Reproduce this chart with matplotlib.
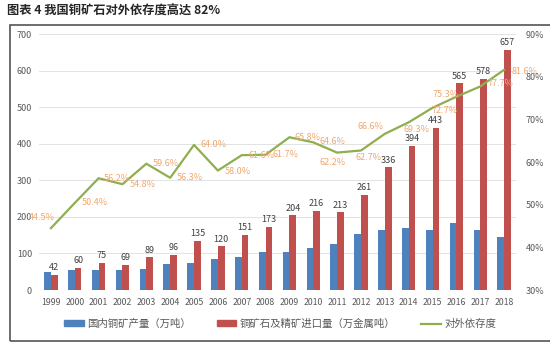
import matplotlib
matplotlib.use('Agg')
import matplotlib.pyplot as plt
from matplotlib.patches import Patch, Rectangle
from matplotlib.lines import Line2D
from matplotlib.ticker import FuncFormatter

plt.rcParams['font.family'] = ['Noto Sans CJK SC', 'DejaVu Sans']

# 数据
years = [str(y) for y in range(1999, 2019)]
domestic = [50, 56, 56, 54, 57, 70, 74, 84, 91, 105, 104, 115, 126, 152, 165, 170, 164, 182, 163, 145]
imports = [42, 60, 75, 69, 89, 96, 135, 120, 151, 173, 204, 216, 213, 261, 336, 394, 443, 565, 578, 657]
dependency = [44.5, 50.4, 56.2, 54.8, 59.6, 56.3, 64.0, 58.0, 61.6, 61.7,
              65.8, 64.6, 62.2, 62.7, 66.6, 69.3, 72.7, 75.3, 77.7, 81.6]

# 百分比标签偏移（像素：右, 上）
pct_offsets = [(-9, 11), (20, 0), (18, 0), (20, 0), (19, 0), (20, 0), (19, 0), (20, -1),
               (20, 0), (20, 0), (18, 0), (19, 1), (-5, -10), (8, -7), (-14, 7), (8, -7),
               (12, -3), (-11, 2), (20, 3), (20, -2)]

blue = '#4F81BD'
red = '#C0504D'
green = '#8FAE4E'
orange = '#EFA870'
grey = '#595959'

fig = plt.figure(figsize=(5.5, 3.45), dpi=100)
ax = fig.add_axes([39 / 550, 1 - 290 / 345, 477 / 550, 256 / 345])

x = list(range(len(years)))
w = 0.28
ax.bar([i - w / 2 for i in x], domestic, width=w, color=blue)
ax.bar([i + w / 2 for i in x], imports, width=w, color=red)
for i, v in zip(x, imports):
    ax.text(i + w / 2, v + 7, str(v), ha='center', va='bottom', fontsize=6.5, color='#404040')

ax.set_xlim(-0.5, len(years) - 0.5)
ax.set_ylim(0, 700)
ax.set_yticks(range(0, 701, 100))
ax.set_xticks(x)
ax.set_xticklabels(years)
ax.yaxis.grid(True, color='#E3E3E3', lw=0.7)
ax.set_axisbelow(True)
ax.tick_params(axis='y', length=0, pad=5, labelsize=6.5, labelcolor=grey)
ax.tick_params(axis='x', length=0, pad=6, labelsize=6.3, labelcolor=grey)
for s in ax.spines.values():
    s.set_visible(False)

ax2 = ax.twinx()
ax2.plot(x, dependency, color=green, lw=1.6)
ax2.set_ylim(30, 90)
ax2.set_yticks(range(30, 91, 10))
ax2.yaxis.set_major_formatter(FuncFormatter(lambda v, p: f'{v:.0f}%'))
ax2.tick_params(axis='y', length=0, pad=7, labelsize=6.5, labelcolor=grey)
for s in ax2.spines.values():
    s.set_visible(False)
for i, v, (dx, dy) in zip(x, dependency, pct_offsets):
    ax2.annotate(f'{v:.1f}%', (i, v), xytext=(dx * 0.72, dy * 0.72), textcoords='offset points',
                 ha='center', va='center', fontsize=6.5, color=orange)

# 图例
handles = [Patch(color=blue), Patch(color=red), Line2D([], [], color=green, lw=1.6)]
labels = ['国内铜矿产量（万吨）', '铜矿石及精矿进口量（万金属吨）', '对外依存度']
fig.legend(handles, labels, loc='center', bbox_to_anchor=(280 / 550, 1 - 324 / 345), ncol=3,
           frameon=False, fontsize=7.5, handlelength=1.9, handleheight=0.5,
           columnspacing=2.5, handletextpad=0.3, labelcolor=grey)

# 外框和标题
fig.patches.append(Rectangle((10 / 550, 1 - 341 / 345), 1.0, (341 - 25) / 345,
                             transform=fig.transFigure, fill=False, ec='#555555', lw=1.2))
fig.text(7 / 550, 1 - 11 / 345, '图表 4 我国铜矿石对外依存度高达 82%',
         fontsize=8.8, fontweight='bold', va='center', color='#262626')

fig.savefig('out.png', dpi=100)
